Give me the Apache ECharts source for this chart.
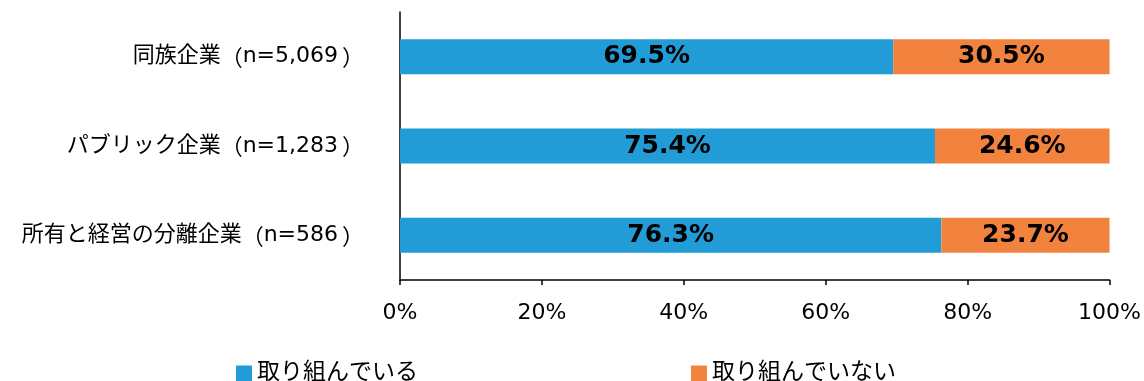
<!DOCTYPE html>
<html><head><meta charset="utf-8">
<script src="https://cdn.jsdelivr.net/npm/echarts@6/dist/echarts.min.js"></script>
<style>html,body{margin:0;padding:0;background:#fff}#c{width:1144px;height:381px}</style>
</head><body><div id="c"></div>
<script>
const categories = ['同族企業（n=5,069）', 'パブリック企業（n=1,283）', '所有と経営の分離企業（n=586）'];
const seriesNames = ['取り組んでいる', '取り組んでいない'];
const doing = [69.5, 75.4, 76.3];
const notDoing = [30.5, 24.6, 23.7];
const xTicks = [0, 20, 40, 60, 80, 100];

const FONT = '"DejaVu Sans", "Noto Sans CJK JP", sans-serif';
const CJK = '"Noto Sans CJK JP", sans-serif';
const chart = echarts.init(document.getElementById('c'));
const labelCfg = {
  show: true, position: 'inside', color: '#000', fontWeight: 'bold', fontSize: 25,
  fontFamily: FONT, formatter: p => p.value.toFixed(1) + '%'
};
function catLabel(s) {
  const i = s.indexOf('（'), j = s.indexOf('）');
  return '{t|' + s.slice(0, i) + '}{lp|（}{t|' + s.slice(i + 1, j) + '}{rp|）}';
}
chart.setOption({
  animation: false,
  grid: { left: 400, right: 34, top: 12, bottom: 101, containLabel: false },
  legend: {
    data: seriesNames, top: 357, left: 231, itemWidth: 16, itemHeight: 16, itemGap: 273,
    icon: 'rect', textStyle: { fontSize: 23, color: '#000', fontFamily: FONT }
  },
  xAxis: {
    type: 'value', min: xTicks[0], max: xTicks[xTicks.length - 1], interval: 20,
    axisLine: { show: true, lineStyle: { color: '#000', width: 1.5 } },
    axisTick: { show: true, length: 5, lineStyle: { color: '#000', width: 1.5 } },
    splitLine: { show: false },
    axisLabel: { formatter: v => v + '%', fontSize: 22, color: '#000', margin: 22, fontFamily: FONT }
  },
  yAxis: {
    type: 'category', data: categories, inverse: true,
    axisLine: { show: true, lineStyle: { color: '#000', width: 1.5 } },
    axisTick: { show: false },
    axisLabel: {
      margin: 36, formatter: catLabel,
      rich: {
        t: { fontSize: 22, color: '#000', fontFamily: FONT },
        lp: { fontSize: 22, color: '#000', fontFamily: CJK, width: 22, align: 'right' },
        rp: { fontSize: 22, color: '#000', fontFamily: CJK, padding: [0, 0, 0, 4] }
      }
    }
  },
  series: [
    { name: seriesNames[0], type: 'bar', stack: 't', data: doing, barWidth: 35,
      itemStyle: { color: '#229CD6' }, label: labelCfg },
    { name: seriesNames[1], type: 'bar', stack: 't', data: notDoing, barWidth: 35,
      itemStyle: { color: '#F1833F' }, label: labelCfg }
  ]
});
</script></body></html>
